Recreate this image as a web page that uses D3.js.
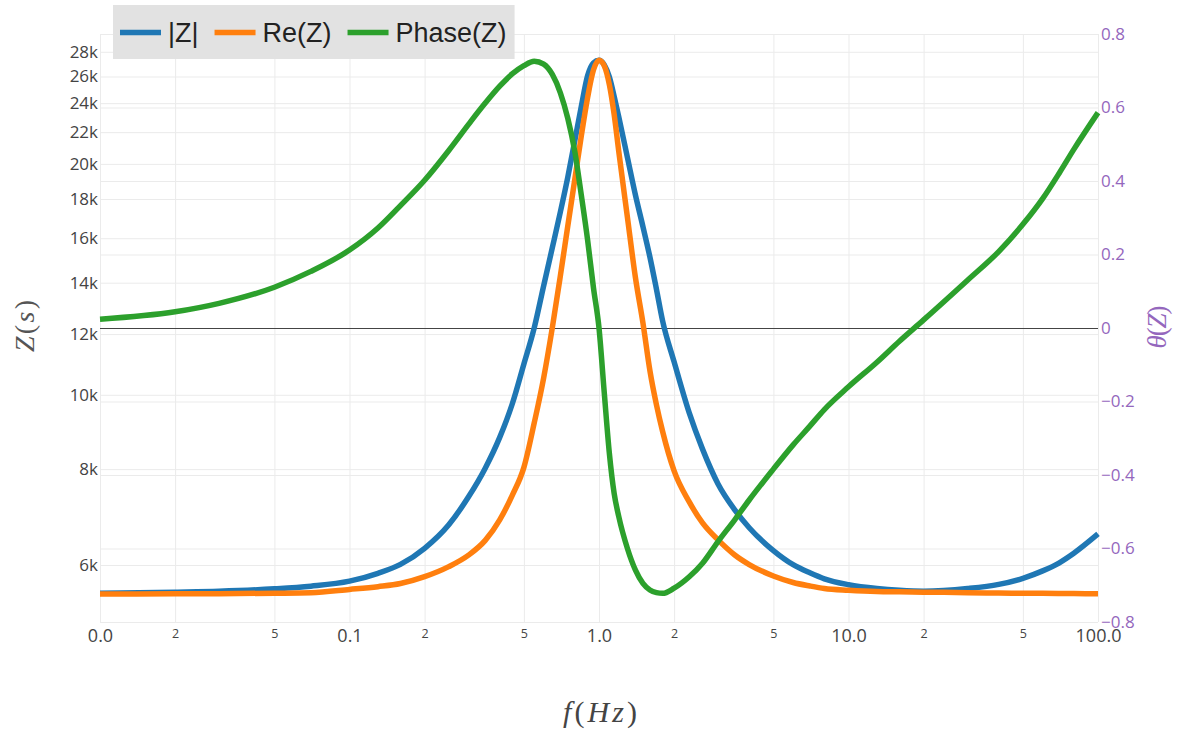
<!DOCTYPE html>
<html><head><meta charset="utf-8">
<script src="https://cdn.jsdelivr.net/npm/d3@7"></script>
<style>body{margin:0;background:#fff;} svg{display:block;}</style>
</head><body><svg id="chart" width="1178" height="738"></svg>
<script>
// ---------- data ----------
const freq = [0.01,0.02,0.03,0.05,0.07,0.1,0.13,0.16,0.2,0.25,0.3,0.35,0.4,0.45,0.5,0.55,0.6,0.65,0.7,0.75,0.8,0.85,0.9,0.95,1.0,1.05,1.1,1.15,1.2,1.3,1.4,1.5,1.6,1.7,1.8,2.0,2.3,2.6,3.0,3.5,4,5,6,7,8,10,13,16,20,30,40,50,60,70,80,100];
const magZ = [5510,5530,5545,5585,5630,5715,5852,6010,6308,6770,7362,8023,8800,9750,10970,12225,13870,15550,17310,19230,21450,23800,26050,27080,27300,26920,25970,24490,23030,20390,18210,16570,15120,13720,12470,11040,9470,8495,7653,7080,6710,6265,6005,5860,5755,5655,5590,5560,5545,5590,5660,5765,5895,6040,6215,6585];
const reZ = [5500,5502,5505,5512,5520,5575,5622,5675,5793,5970,6180,6460,6870,7406,8043,9190,10520,12235,14290,16610,19100,21790,24400,26510,27300,26840,25380,23200,20770,17030,14210,12410,10750,9700,8950,7957,7250,6807,6469,6183,6008,5805,5693,5634,5592,5562,5540,5535,5530,5522,5515,5512,5510,5508,5506,5503];
const phaseZ = [0.024,0.044,0.067,0.111,0.154,0.212,0.272,0.333,0.402,0.483,0.554,0.612,0.658,0.692,0.714,0.726,0.718,0.690,0.640,0.570,0.480,0.360,0.240,0.110,0.0,-0.177,-0.340,-0.450,-0.513,-0.600,-0.659,-0.695,-0.713,-0.720,-0.722,-0.708,-0.677,-0.640,-0.581,-0.522,-0.468,-0.384,-0.318,-0.267,-0.222,-0.160,-0.093,-0.036,0.022,0.130,0.208,0.282,0.352,0.422,0.486,0.586];

const seriesNames = ["|Z|","Re(Z)","Phase(Z)"];

const xMajorTicks = [0.01,0.1,1,10,100];
const xMajorLabels = ["0.0","0.1","1.0","10.0","100.0"];
const xMinorTicks = [0.02,0.05,0.2,0.5,2,5,20,50];
const xMinorLabels = ["2","5","2","5","2","5","2","5"];
const yLeftTicks = [6000,8000,10000,12000,14000,16000,18000,20000,22000,24000,26000,28000];
const yLeftLabels = ["6k","8k","10k","12k","14k","16k","18k","20k","22k","24k","26k","28k"];
const yRightTicks = [-0.8,-0.6,-0.4,-0.2,0,0.2,0.4,0.6,0.8];
const yRightLabels = ["\u22120.8","\u22120.6","\u22120.4","\u22120.2","0","0.2","0.4","0.6","0.8"];
const yLeftRange = [5056, 29537];
const yRightRange = [-0.8, 0.8];

// ---------- styles ----------
const colors = ["#1f77b4","#ff7f0e","#2ca02c"];
const purple = "#9467bd";
const M = {l:100, r:1098, t:34, b:622};
const tickFont = "'Open Sans', 'Noto Sans', Arial, sans-serif";
const legendFont = "'Liberation Sans', Arial, sans-serif";

const svg = d3.select("#chart");
const x = d3.scaleLog().domain([xMajorTicks[0], xMajorTicks[xMajorTicks.length-1]]).range([M.l, M.r]);
const yL = d3.scaleLog().domain(yLeftRange).range([M.b, M.t]);
const yR = d3.scaleLinear().domain(yRightRange).range([M.b, M.t]);

// ---------- grid ----------
const grid = svg.append("g");
grid.append("g").attr("transform",`translate(0,${M.b})`)
  .call(d3.axisBottom(x).tickValues(xMajorTicks.concat(xMinorTicks)).tickSize(-(M.b-M.t)).tickFormat(""))
  .call(g=>g.select(".domain").remove());
grid.append("g").attr("transform",`translate(${M.l},0)`)
  .call(d3.axisLeft(yL).tickValues(yLeftTicks).tickSize(-(M.r-M.l)).tickFormat(""))
  .call(g=>g.select(".domain").remove());
grid.append("g").attr("transform",`translate(${M.r},0)`)
  .call(d3.axisRight(yR).tickValues(yRightTicks.filter(d=>d!==0)).tickSize(-(M.r-M.l)).tickFormat(""))
  .call(g=>g.select(".domain").remove());
grid.selectAll("line").attr("stroke","#ebebeb").attr("stroke-width",1);

// zero line of the right axis
svg.append("line").attr("x1",M.l).attr("x2",M.r)
  .attr("y1",Math.round(yR(0))+0.5).attr("y2",Math.round(yR(0))+0.5)
  .attr("stroke","#444").attr("stroke-width",1);

// ---------- lines ----------
const plot = svg.append("g");
const mk = (yScale, vals) => d3.line().curve(d3.curveMonotoneX)
  .x((d,i)=>x(freq[i])).y((d,i)=>yScale(vals[i]))(freq);
[[yL,magZ],[yL,reZ],[yR,phaseZ]].forEach(([s,v],i)=>{
  plot.append("path").attr("d",mk(s,v)).attr("fill","none")
    .attr("stroke",colors[i]).attr("stroke-width",5.5)
    .attr("stroke-linejoin","round").attr("stroke-linecap","butt");
});

// ---------- tick labels ----------
function styleAxis(g, size, color){
  g.select(".domain").remove();
  g.selectAll(".tick line").remove();
  g.selectAll("text").attr("font-family",tickFont).attr("font-size",size).attr("fill",color);
}
svg.append("g").attr("transform",`translate(0,${M.b})`)
  .call(d3.axisBottom(x).tickValues(xMajorTicks).tickFormat((d,i)=>xMajorLabels[i]).tickSize(0).tickPadding(7))
  .call(g=>styleAxis(g,18,"#444"));
svg.append("g").attr("transform",`translate(0,${M.b})`)
  .call(d3.axisBottom(x).tickValues(xMinorTicks).tickFormat((d,i)=>xMinorLabels[i]).tickSize(0).tickPadding(7))
  .call(g=>styleAxis(g,12.5,"#444"));
svg.append("g").attr("transform",`translate(${M.l},0)`)
  .call(d3.axisLeft(yL).tickValues(yLeftTicks).tickFormat((d,i)=>yLeftLabels[i]).tickSize(0).tickPadding(2))
  .call(g=>styleAxis(g,17,"#444"));
svg.append("g").attr("transform",`translate(${M.r},0)`)
  .call(d3.axisRight(yR).tickValues(yRightTicks).tickFormat((d,i)=>yRightLabels[i]).tickSize(0).tickPadding(3))
  .call(g=>styleAxis(g,17,purple));

// ---------- axis titles ----------
function mathTitle(parts, attrs){
  const t = svg.append("text").attr("font-family","'Liberation Serif','DejaVu Serif',serif")
    .attr("text-anchor","middle");
  Object.entries(attrs).forEach(([k,v])=>t.attr(k,v));
  parts.forEach(([s,it])=>t.append("tspan").text(s).attr("font-style",it?"italic":"normal"));
  return t;
}
mathTitle([["f",1],["(",0],["Hz",1],[")",0]],
  {x:600,y:722,"font-size":30,fill:"#444",textLength:74,lengthAdjust:"spacing"});
mathTitle([["Z",1],["(",0],["s",1],[")",0]],
  {transform:"translate(34,326) rotate(-90)","font-size":28,fill:"#555",textLength:52,lengthAdjust:"spacing"});
mathTitle([["\u03B8",1],["(",0],["Z",1],[")",0]],
  {transform:"translate(1166,327) rotate(-90)","font-size":27,fill:purple,textLength:43,lengthAdjust:"spacing"});

// ---------- legend ----------
const lg = svg.append("g");
const bg = lg.append("rect").attr("x",113).attr("y",5).attr("height",54).attr("fill","#e2e2e2");
let cx = 120;
seriesNames.forEach((name,i)=>{
  lg.append("line").attr("x1",cx).attr("x2",cx+41).attr("y1",32.5).attr("y2",32.5)
    .attr("stroke",colors[i]).attr("stroke-width",5.5);
  const t = lg.append("text").attr("x",cx+48).attr("y",42).text(name)
    .attr("font-family",legendFont).attr("font-size",27).attr("fill","#222");
  cx = cx + 48 + t.node().getComputedTextLength() + 16;
});
bg.attr("width", cx - 16 + 8 - 113);
</script></body></html>
